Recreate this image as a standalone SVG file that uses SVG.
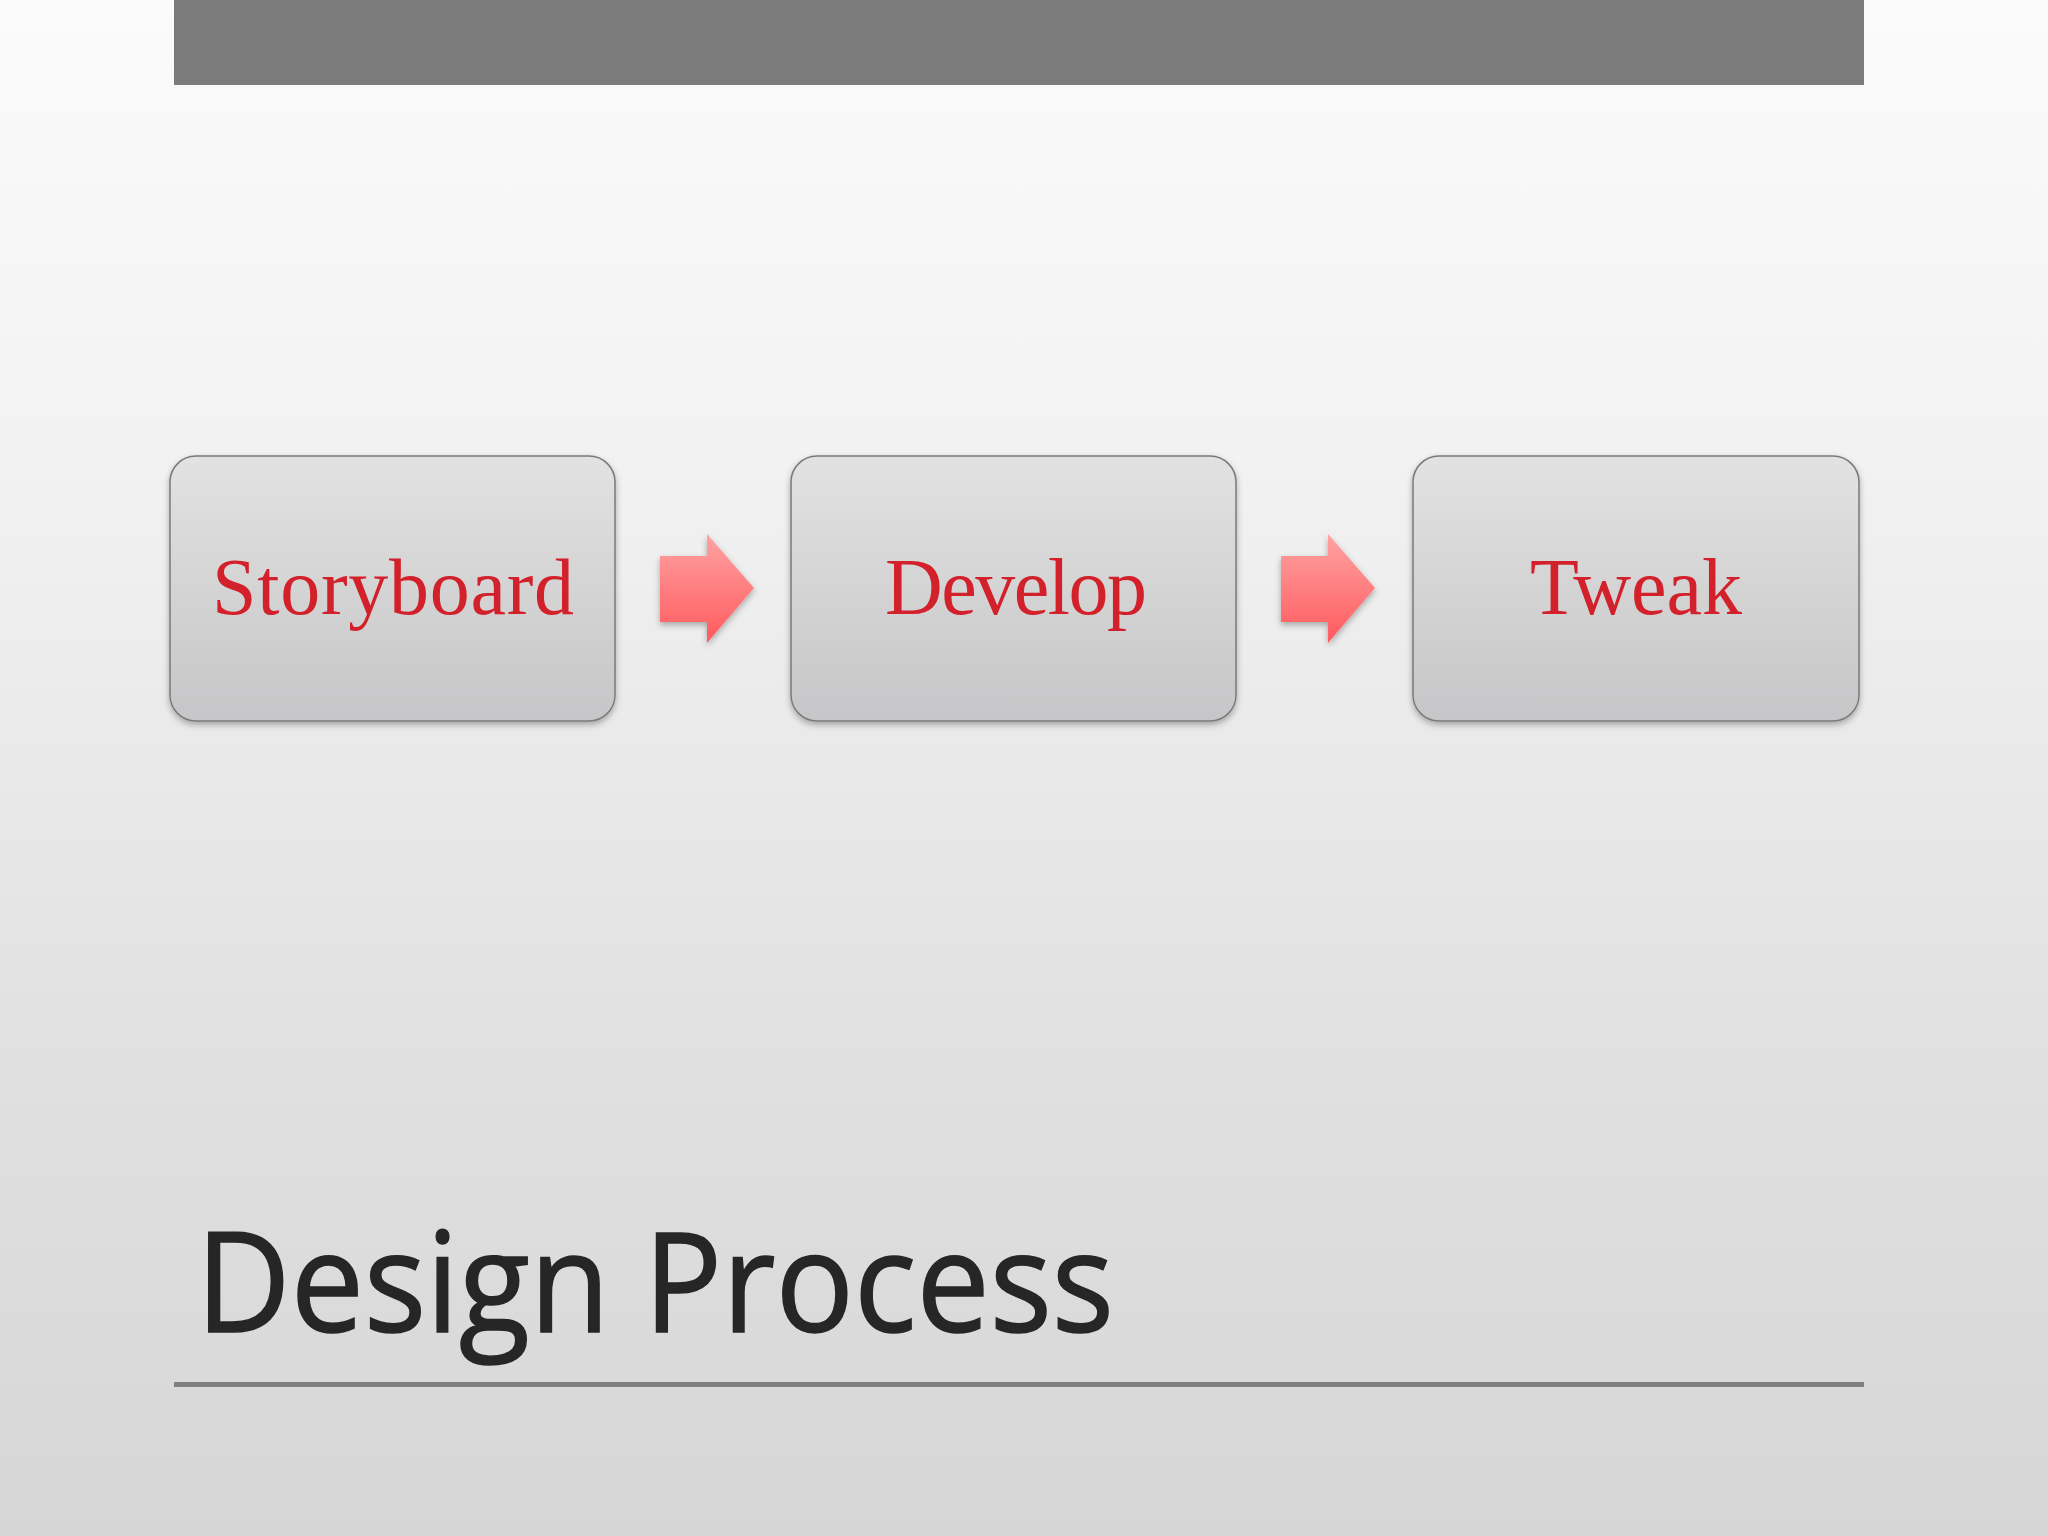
<svg xmlns="http://www.w3.org/2000/svg" width="2048" height="1536" viewBox="0 0 2048 1536">
<defs>
<linearGradient id="bg" x1="0" y1="0" x2="0" y2="1">
<stop offset="0" stop-color="#fbfbfb"/>
<stop offset="0.3" stop-color="#f2f2f2"/>
<stop offset="0.7" stop-color="#e0e0e1"/>
<stop offset="1" stop-color="#d6d6d7"/>
</linearGradient>
<linearGradient id="box" x1="0" y1="0" x2="0" y2="1">
<stop offset="0" stop-color="#e2e2e2"/>
<stop offset="1" stop-color="#c6c6c8"/>
</linearGradient>
<linearGradient id="arr" x1="0" y1="0" x2="0" y2="1">
<stop offset="0" stop-color="#ffa3a3"/>
<stop offset="1" stop-color="#ff5a5e"/>
</linearGradient>
<filter id="sh" x="-10%" y="-10%" width="120%" height="130%">
<feDropShadow dx="0" dy="3" stdDeviation="3" flood-color="#000" flood-opacity="0.3"/>
</filter>
</defs>
<style>
.node rect{fill:url(#box);stroke:#7a7a7a;stroke-width:1.5;filter:url(#sh)}
.node text{font-family:"Liberation Serif",Cambria,serif;font-size:80px;fill:#d2212b;text-anchor:middle}
.arrow{fill:url(#arr);filter:url(#sh)}
</style>
<rect width="2048" height="1536" fill="url(#bg)"/>
<rect x="174" y="0" width="1690" height="85" fill="#7b7b7b"/>
<g id="storyboard" class="node">
<rect x="170" y="456" width="445" height="265" rx="26"/>
<text x="393" y="614" textLength="362">Storyboard</text>
</g>
<g id="develop" class="node">
<rect x="791" y="456" width="445" height="265" rx="26"/>
<text x="1016" y="614" textLength="262">Develop</text>
</g>
<g id="tweak" class="node">
<rect x="1413" y="456" width="446" height="265" rx="26"/>
<text x="1636" y="614">Tweak</text>
</g>
<g id="connectors">
<path class="arrow" d="M660 556 H707 V534 L754 588 L707 643 V622 H660 Z"/>
<path class="arrow" d="M1281 556 H1328 V534 L1375 588 L1328 643 V622 H1281 Z"/>
</g>
<text x="196" y="1332" font-family="'Open Sans','Noto Sans',sans-serif" font-size="140" fill="#262626" stroke="#262626" stroke-width="1.5" textLength="918" lengthAdjust="spacingAndGlyphs">Design Process</text>
<rect x="174" y="1382" width="1690" height="5" fill="#808080"/>
</svg>
